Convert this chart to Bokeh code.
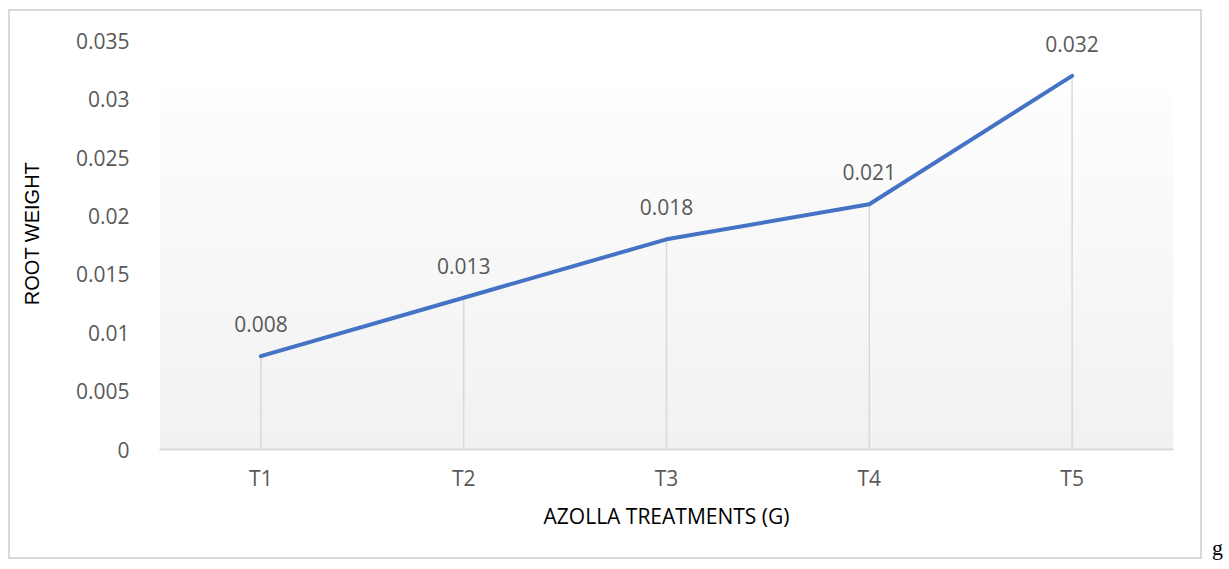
from bokeh.plotting import figure
from bokeh.models import FactorRange, Range1d, FixedTicker, BoxAnnotation, Div, ColumnDataSource, LabelSet
from bokeh.layouts import row
from bokeh.core.properties import value
from bokeh.embed import file_html
from bokeh.resources import INLINE

# ---- data ----
treatments = ["T1", "T2", "T3", "T4", "T5"]
root_weight = [0.008, 0.013, 0.018, 0.021, 0.032]
point_labels = ["0.008", "0.013", "0.018", "0.021", "0.032"]
y_ticks = [0, 0.005, 0.01, 0.015, 0.02, 0.025, 0.03, 0.035]
y_tick_labels = ["0", "0.005", "0.01", "0.015", "0.02", "0.025", "0.03", "0.035"]

src = ColumnDataSource(dict(x=treatments, y=root_weight, lab=point_labels,
                            zero=[0] * len(treatments)))

p = figure(width=1194, height=550, output_backend="svg", toolbar_location=None,
           x_range=FactorRange(factors=treatments, range_padding=0),
           y_range=Range1d(0, 0.037),
           min_border_left=149, min_border_right=31, min_border_top=6, min_border_bottom=112)
p.styles = {"border": "2px solid #d9d9d9"}
p.outline_line_color = None
p.background_fill_color = "white"
p.border_fill_color = "white"
p.xgrid.grid_line_color = None
p.ygrid.grid_line_color = None

# gradient plot-area background (decorative bands)
n = 40
top = 0.0305
c0 = (0xf1, 0xf1, 0xf1)
c1 = (0xfd, 0xfd, 0xfd)
for i in range(n):
    t = i / (n - 1)
    col = "#%02x%02x%02x" % tuple(int(round(a + (b - a) * t)) for a, b in zip(c0, c1))
    p.add_layout(BoxAnnotation(bottom=top * i / n, top=top * (i + 1) / n,
                               fill_color=col, fill_alpha=1, line_color=None,
                               level="underlay"))

# drop lines
p.segment(x0="x", y0="zero", x1="x", y1="y", source=src, line_color="#d9d9d9", line_width=1.5)
# line
p.line(x="x", y="y", source=src, line_color="#4472C4", line_width=4,
       line_join="round", line_cap="round")
# data labels
labels = LabelSet(x="x", y="y", text="lab", source=src, y_offset=32, text_align="center",
                  text_baseline="middle", text_font=value("Open Sans"),
                  text_font_size=value("21px"), text_color=value("#595959"))
p.add_layout(labels)

# axes
p.xaxis.axis_line_color = "#d9d9d9"
p.xaxis.axis_line_width = 2
p.xaxis.major_tick_line_color = None
p.xaxis.minor_tick_line_color = None
p.xaxis.major_label_text_font = "Open Sans"
p.xaxis.major_label_text_font_size = "21px"
p.xaxis.major_label_text_color = "#595959"
p.xaxis.major_label_standoff = 8
p.xaxis.axis_label = "AZOLLA TREATMENTS (G)"
p.xaxis.axis_label_text_font = "Open Sans"
p.xaxis.axis_label_text_font_size = "21px"
p.xaxis.axis_label_text_font_style = "normal"
p.xaxis.axis_label_text_color = "#000000"
p.xaxis.axis_label_standoff = 7

p.yaxis.ticker = FixedTicker(ticks=y_ticks)
p.yaxis.major_label_overrides = {t: l for t, l in zip(y_ticks, y_tick_labels)}
p.yaxis.axis_line_color = None
p.yaxis.major_tick_line_color = None
p.yaxis.minor_tick_line_color = None
p.yaxis.major_label_text_font = "Open Sans"
p.yaxis.major_label_text_font_size = "21px"
p.yaxis.major_label_text_color = "#595959"
p.yaxis.major_label_standoff = 24
p.yaxis.axis_label = "ROOT WEIGHT"
p.yaxis.axis_label_text_font = "Liberation Sans"
p.yaxis.axis_label_text_font_size = "20px"
p.yaxis.axis_label_text_font_style = "normal"
p.yaxis.axis_label_text_color = "#000000"
p.yaxis.axis_label_standoff = 30

g = Div(text="g", styles={"font-family": "Liberation Serif", "font-size": "22px",
                          "color": "#000", "margin-top": "523px", "margin-left": "10px"})

layout = row(p, g, styles={"margin-left": "8px", "margin-top": "9px"})
open("out.html", "w").write(file_html(layout, INLINE))
